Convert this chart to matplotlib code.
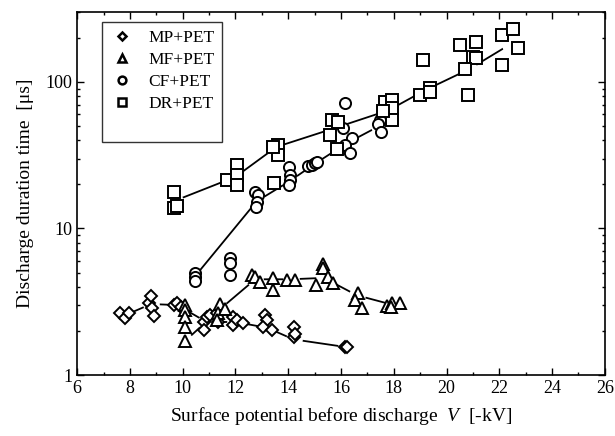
import numpy as np
import matplotlib
matplotlib.use('Agg')
import matplotlib.pyplot as plt
from matplotlib.lines import Line2D

plt.rcParams['font.family'] = ['Liberation Serif', 'DejaVu Serif']
plt.rcParams['mathtext.fontset'] = 'custom'
plt.rcParams['mathtext.it'] = 'Liberation Serif:italic'

# MP+PET (diamonds)
mp_v = [7.62, 7.81, 7.95, 8.72, 8.81, 8.84, 8.91, 9.67, 9.79, 9.95,
        10.81, 10.81, 10.93, 11.04, 11.30, 11.34, 11.91, 11.91, 12.06, 12.28,
        13.10, 13.20, 13.04, 13.38, 14.21, 14.21, 14.25, 16.15, 16.22]
mp_t = [2.65, 2.45, 2.65, 3.10, 3.46, 2.87, 2.53, 3.00, 3.10, 2.90,
        2.30, 2.03, 2.49, 2.57, 2.65, 2.30, 2.49, 2.19, 2.37, 2.26,
        2.57, 2.37, 2.13, 2.03, 2.13, 1.82, 1.90, 1.55, 1.55]
mp_line_v = [7.8, 8.8, 9.8, 10.9, 12.0, 13.2, 14.2, 16.2]
mp_line_t = [2.55, 3.05, 3.0, 2.3, 2.3, 2.1, 1.75, 1.55]

# MF+PET (triangles)
mf_v = [10.08, 10.08, 10.08, 10.08, 10.08, 11.41, 11.34, 11.30, 11.60,
        12.62, 12.74, 12.93, 13.42, 13.42, 13.95, 14.25, 15.05, 15.32, 15.32,
        15.51, 15.69, 16.64, 16.53, 16.79, 17.74, 17.93, 18.23, 17.90]
mf_t = [3.00, 2.78, 2.49, 2.12, 1.70, 3.05, 2.65, 2.37, 2.80,
        4.80, 4.66, 4.31, 4.60, 3.80, 4.45, 4.45, 4.10, 5.70, 5.40,
        4.70, 4.25, 3.60, 3.25, 2.87, 2.95, 3.10, 3.10, 2.90]
mf_line_v = [10.08, 11.4, 12.75, 14.1, 15.35, 16.6, 18.0]
mf_line_t = [1.7, 2.8, 4.5, 4.5, 4.6, 3.5, 3.0]

# CF+PET (circles)
cf_v = [10.46, 10.46, 10.46, 11.79, 11.79, 11.79, 12.74, 12.85, 12.81, 12.77,
        14.02, 14.06, 14.06, 14.02, 14.76, 14.89, 15.01, 15.08,
        16.15, 16.07, 16.41, 16.15, 16.34, 17.47, 17.40, 17.51]
cf_t = [5.0, 4.7, 4.4, 6.25, 5.8, 4.8, 17.8, 16.9, 15.2, 14.0,
        26.2, 23.2, 21.5, 19.8, 26.5, 27.2, 27.9, 28.6,
        72.0, 48.5, 41.6, 37.0, 32.8, 55.0, 52.0, 45.6]
cf_line_v = [10.46, 12.8, 14.05, 14.95, 16.2, 17.45]
cf_line_t = [4.7, 15.3, 21.0, 27.2, 38.0, 50.0]

# DR+PET (squares)
dr_v = [9.68, 9.66, 9.80, 11.67, 12.06, 12.06, 12.06, 13.62, 13.62, 13.43,
        13.46, 15.58, 15.64, 15.90, 15.84, 17.66, 17.92, 17.92, 17.92, 17.60,
        18.99, 19.37, 19.37, 19.12, 20.51, 21.11, 21.00, 21.11, 20.70, 20.81,
        22.10, 22.51, 22.70, 22.10]
dr_t = [17.6, 13.8, 14.2, 21.4, 27.1, 23.2, 19.8, 36.9, 31.7, 36.0,
        20.4, 43.2, 55.0, 53.5, 34.7, 73.5, 75.0, 66.0, 55.0, 63.0,
        81.0, 90.5, 86.0, 142.0, 178.0, 187.0, 148.0, 146.0, 123.0, 81.0,
        209.0, 231.0, 171.0, 131.0]
dr_line_v = [9.72, 12.0, 13.55, 15.7, 17.8, 19.2, 20.85, 22.4]
dr_line_t = [15.5, 22.5, 36.0, 48.0, 64.0, 88.0, 122.0, 180.0]

series = [
    ('MP+PET', 'D', 6.5, mp_v, mp_t, mp_line_v, mp_line_t),
    ('MF+PET', '^', 8.5, mf_v, mf_t, mf_line_v, mf_line_t),
    ('CF+PET', 'o', 8.0, cf_v, cf_t, cf_line_v, cf_line_t),
    ('DR+PET', 's', 8.5, dr_v, dr_t, dr_line_v, dr_line_t),
]

fig = plt.figure(figsize=(6.15, 4.36), dpi=100)
ax = fig.add_axes([0.1255, 0.1399, 0.858, 0.8326])

handles = []
for name, mk, ms, v, t, lv, lt in series:
    ax.plot(lv, lt, '-', color='black', lw=1.3, zorder=1)
    # small breaks in the line at the cluster points
    ax.plot(lv, lt, 'o', ms=12, mfc='white', mec='none', zorder=2)
    ax.plot(v, t, linestyle='none', marker=mk, ms=ms, mfc='white',
            mec='black', mew=1.4, zorder=3)
    handles.append(Line2D([], [], linestyle='none', marker=mk, ms=ms * 0.7,
                          mfc='white', mec='black', mew=1.8, label=name))
handles.append(Line2D([], [], linestyle='none', label=' '))

ax.set_yscale('log')
ax.set_xlim(6, 26)
ax.set_ylim(1, 300)
ax.set_xticks(np.arange(6, 27, 2))
ax.set_xticks(np.arange(6, 27, 1), minor=True)
ax.set_yticks([1, 10, 100])
ax.set_yticklabels(['1', '10', '100'])
ax.yaxis.set_minor_locator(matplotlib.ticker.LogLocator(subs=[2, 3, 4, 5, 6, 7, 8, 9]))
ax.yaxis.set_minor_formatter(matplotlib.ticker.NullFormatter())
ax.tick_params(which='both', direction='in', top=True, right=True,
               labelsize=13, width=1.0)
ax.tick_params(which='major', length=5)
ax.tick_params(which='minor', length=2.5)
for s in ax.spines.values():
    s.set_linewidth(1.2)

ax.set_xlabel('Surface potential before discharge  $\\mathit{V}$  [-kV]', fontsize=14, labelpad=6)
ax.set_ylabel('Discharge duration time  [\u03bcs]', fontsize=14, labelpad=8)

leg = ax.legend(handles=handles, loc='upper left', bbox_to_anchor=(0.047, 0.973),
                borderaxespad=0, frameon=True, fancybox=False, edgecolor='black',
                fontsize=12.5, handletextpad=0.8, labelspacing=0.35,
                borderpad=0.45, handlelength=1.4)
leg.get_frame().set_linewidth(1.0)

fig.savefig('out.png', dpi=100)
